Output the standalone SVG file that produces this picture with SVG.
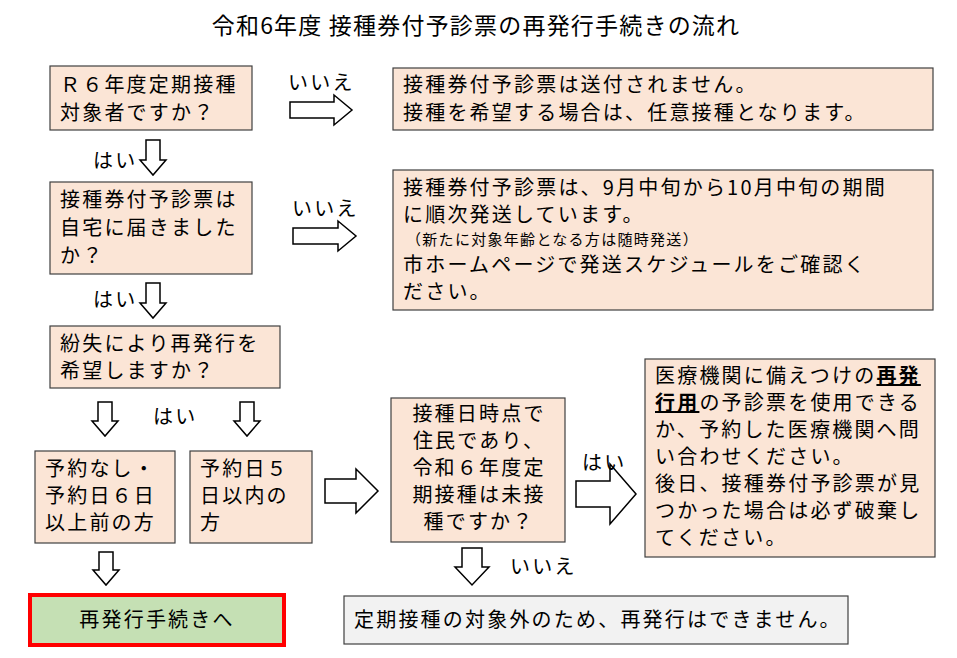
<svg xmlns="http://www.w3.org/2000/svg" width="957" height="658" viewBox="0 0 957 658">
<style>
text{font-family:"Noto Sans CJK JP","Noto Sans",sans-serif;font-size:20px;letter-spacing:2.2px;fill:#000}
.b{fill:#FBE5D6;stroke:#404040;stroke-width:1.2}
.a{fill:#fff;stroke:#000;stroke-width:1.5;stroke-linejoin:miter}
.s{font-size:15px;letter-spacing:1.3px}
.c{text-anchor:middle}
</style>
<rect width="957" height="658" fill="#fff"/>
<text x="476" y="34" class="c" style="font-size:23px;letter-spacing:1.2px">令和6年度  接種券付予診票の再発行手続きの流れ</text>
<g id="n1"><rect class="b" x="50" y="66" width="202" height="64"/><text x="60" y="92">Ｒ６年度定期接種</text><text x="60" y="120">対象者ですか？</text></g>
<g id="n2"><rect class="b" x="393" y="68" width="540" height="62"/><text x="403" y="92">接種券付予診票は送付されません。</text><text x="403" y="120">接種を希望する場合は、任意接種となります。</text></g>
<g id="n3"><rect class="b" x="50" y="182" width="202" height="92"/><text x="60" y="207">接種券付予診票は</text><text x="60" y="235">自宅に届きました</text><text x="60" y="263">か？</text></g>
<g id="n4"><rect class="b" x="393" y="170" width="540" height="140"/><text x="403" y="195">接種券付予診票は、9月中旬から10月中旬の期間</text><text x="403" y="222">に順次発送しています。</text><text x="406" y="245" class="s">（新たに対象年齢となる方は随時発送）</text><text x="403" y="272">市ホームページで発送スケジュールをご確認く</text><text x="403" y="299">ださい。</text></g>
<g id="n5"><rect class="b" x="50" y="326" width="230" height="62"/><text x="60" y="351">紛失により再発行を</text><text x="60" y="378">希望しますか？</text></g>
<g id="n6"><rect class="b" x="35" y="451" width="140" height="92"/><text x="45" y="476">予約なし・</text><text x="45" y="503">予約日６日</text><text x="45" y="530">以上前の方</text></g>
<g id="n7"><rect class="b" x="190" y="451" width="122" height="92"/><text x="200" y="476">予約日５</text><text x="200" y="503">日以内の</text><text x="200" y="530">方</text></g>
<g id="n8"><rect class="b" x="391" y="398" width="174" height="144"/><text x="479" y="421" class="c">接種日時点で</text><text x="479" y="448" class="c">住民であり、</text><text x="479" y="475" class="c">令和６年度定</text><text x="479" y="502" class="c">期接種は未接</text><text x="479" y="529" class="c">種ですか？</text></g>
<g id="n9"><rect class="b" x="645" y="359" width="290" height="198"/><text x="655" y="383">医療機関に備えつけの<tspan font-weight="bold" text-decoration="underline">再発</tspan></text><text x="655" y="410"><tspan font-weight="bold" text-decoration="underline">行用</tspan>の予診票を使用できる</text><text x="655" y="437">か、予約した医療機関へ問</text><text x="655" y="464">い合わせください。</text><text x="655" y="491">後日、接種券付予診票が見</text><text x="655" y="518">つかった場合は必ず破棄し</text><text x="655" y="545">てください。</text></g>
<g id="n10"><rect x="344" y="596" width="504" height="48" fill="#F2F2F2" stroke="#404040" stroke-width="1.2"/><text x="354" y="627">定期接種の対象外のため、再発行はできません。</text></g>
<g id="n11"><rect x="30" y="595" width="254" height="50" fill="#C5E0B4" stroke="#FF0000" stroke-width="4"/><text x="157" y="627" class="c">再発行手続きへ</text></g>
<g id="connectors">
<polygon class="a" points="290,102 334,102 334,95 352,110 334,125 334,118 290,118"/>
<polygon class="a" points="293,228 338,228 338,221 356,236 338,251 338,244 293,244"/>
<polygon class="a" points="325,479 356,479 356,469 378,491 356,513 356,503 325,503"/>
<polygon class="a" points="576,481 610,481 610,464 636,494 610,524 610,507 576,507"/>
<polygon class="a" points="146,140 160,140 160,160 166,160 153,175 140,160 146,160"/>
<polygon class="a" points="146,283 160,283 160,303 166,303 153,318 140,303 146,303"/>
<polygon class="a" points="98,402 112,402 112,421 118,421 105,436 92,421 98,421"/>
<polygon class="a" points="240,402 254,402 254,421 260,421 247,436 234,421 240,421"/>
<polygon class="a" points="99,552 113,552 113,570 119,570 106,585 93,570 99,570"/>
<polygon class="a" points="462,548 482,548 482,567 489,567 472,585 455,567 462,567"/>
</g>
<text x="288" y="90">いいえ</text>
<text x="292" y="216">いいえ</text>
<text x="93" y="168">はい</text>
<text x="93" y="307">はい</text>
<text x="153" y="424">はい</text>
<text x="582" y="470">はい</text>
<text x="510" y="574">いいえ</text>
</svg>
